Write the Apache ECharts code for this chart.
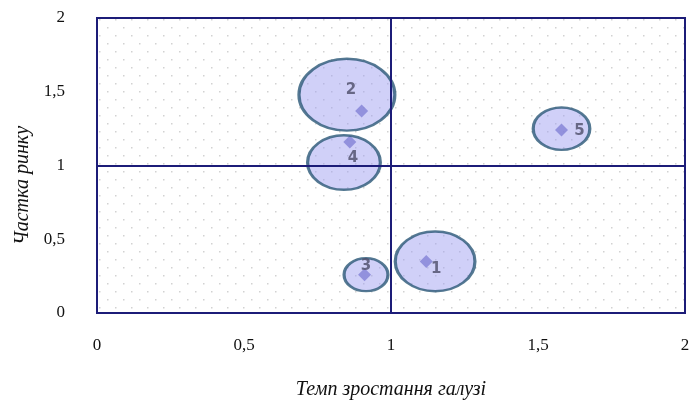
<!DOCTYPE html>
<html>
<head>
<meta charset="utf-8">
<script src="https://cdn.jsdelivr.net/npm/echarts@6/dist/echarts.min.js"></script>
<style>
html, body { margin: 0; padding: 0; background: #ffffff; }
#main { width: 693px; height: 406px; }
</style>
</head>
<body>
<div id="main"></div>
<script>
// назви сегментів
var names = [ '1', '2', '3', '4', '5' ];
// точки (ромби): темп зростання / частка ринку
var pointX = [ 1.12, 0.90, 0.91, 0.86, 1.58 ];
var pointY = [ 0.35, 1.37, 0.26, 1.16, 1.24 ];
// бульбашки
var bubbleX = [ 1.15, 0.85, 0.915, 0.84, 1.58 ];
var bubbleY = [ 0.35, 1.48, 0.26, 1.02, 1.25 ];
var bubbleSize = [ 69, 83, 38, 63, 49 ];
var ticks = [ 0, 0.5, 1, 1.5, 2 ];

var fmt = function(v) {
	return String(v).replace('.', ',');
};

// фон з точками
var tile = document.createElement('canvas');
tile.width = 16;
tile.height = 16;
var ctx = tile.getContext('2d');
ctx.fillStyle = '#d2d2d2';
ctx.fillRect(3, 3, 1.5, 1.5);
ctx.fillRect(11, 11, 1.5, 1.5);

var labelOffset = [ [ 1, 8 ], [ 4, -5 ], [ 0, -9 ], [ 9, -4 ], [ 18, 2 ] ];

var bubbles = [], points = [];
for ( var i = 0; i < names.length; i++) {
	bubbles.push({
		name : names[i],
		value : [ bubbleX[i], bubbleY[i], bubbleSize[i] ],
		label : {
			offset : labelOffset[i]
		}
	});
	points.push([ pointX[i], pointY[i] ]);
}

var myChart = echarts.init(document.getElementById('main'));
var option = {
	backgroundColor : '#ffffff',
	animation : false,
	grid : {
		left : 97,
		right : 8,
		top : 18,
		bottom : 93,
		show : true,
		borderColor : '#1c1c78',
		borderWidth : 2,
		backgroundColor : {
			image : tile,
			repeat : 'repeat'
		}
	},
	xAxis : {
		type : 'value',
		min : 0,
		max : 2,
		interval : 0.5,
		name : 'Темп зростання галузі',
		nameLocation : 'middle',
		nameGap : 67,
		nameTextStyle : {
			fontFamily : 'Liberation Serif',
			fontStyle : 'italic',
			fontSize : 20,
			color : '#111'
		},
		axisLine : {
			lineStyle : {
				color : '#1c1c78',
				width : 2
			}
		},
		axisTick : {
			show : false
		},
		splitLine : {
			show : false
		},
		axisLabel : {
			margin : 24,
			fontFamily : 'Liberation Serif',
			fontSize : 17,
			color : '#111',
			formatter : fmt
		}
	},
	yAxis : {
		type : 'value',
		min : 0,
		max : 2,
		interval : 0.5,
		name : 'Частка ринку',
		nameLocation : 'middle',
		nameGap : 58,
		nameTextStyle : {
			fontFamily : 'Liberation Serif',
			fontStyle : 'italic',
			fontSize : 20,
			color : '#111',
			padding : [ 0, 40, 0, 0 ]
		},
		axisLine : {
			lineStyle : {
				color : '#1c1c78',
				width : 2
			}
		},
		axisTick : {
			show : false
		},
		splitLine : {
			show : false
		},
		axisLabel : {
			margin : 32,
			fontFamily : 'Liberation Serif',
			fontSize : 17,
			color : '#111',
			formatter : fmt
		}
	},
	series : [ {
		type : 'scatter',
		data : [],
		silent : true,
		markLine : {
			silent : true,
			symbol : 'none',
			label : {
				show : false
			},
			lineStyle : {
				color : '#1c1c78',
				width : 2,
				type : 'solid'
			},
			data : [ {
				xAxis : 1
			}, {
				yAxis : 1
			} ]
		}
	}, {
		type : 'scatter',
		data : points,
		symbol : 'diamond',
		symbolSize : 13,
		itemStyle : {
			color : '#6664bb'
		},
		z : 3
	}, {
		type : 'scatter',
		data : bubbles,
		symbol : 'path://M0,50 A50,50 0 1,1 100,50 A50,50 0 1,1 0,50 Z',
		symbolSize : function(val) {
			var s = val[2];
			return [ s * 1.155, s / 1.155 ];
		},
		itemStyle : {
			color : 'rgba(160,160,240,0.62)',
			borderColor : '#2b5877',
			borderWidth : 2.8
		},
		label : {
			show : true,
			position : 'inside',
			formatter : '{b}',
			fontFamily : 'DejaVu Sans',
			fontWeight : 'bold',
			fontSize : 15,
			color : '#4c4c68'
		},
		z : 4
	} ]
};
myChart.setOption(option);
</script>
</body>
</html>
